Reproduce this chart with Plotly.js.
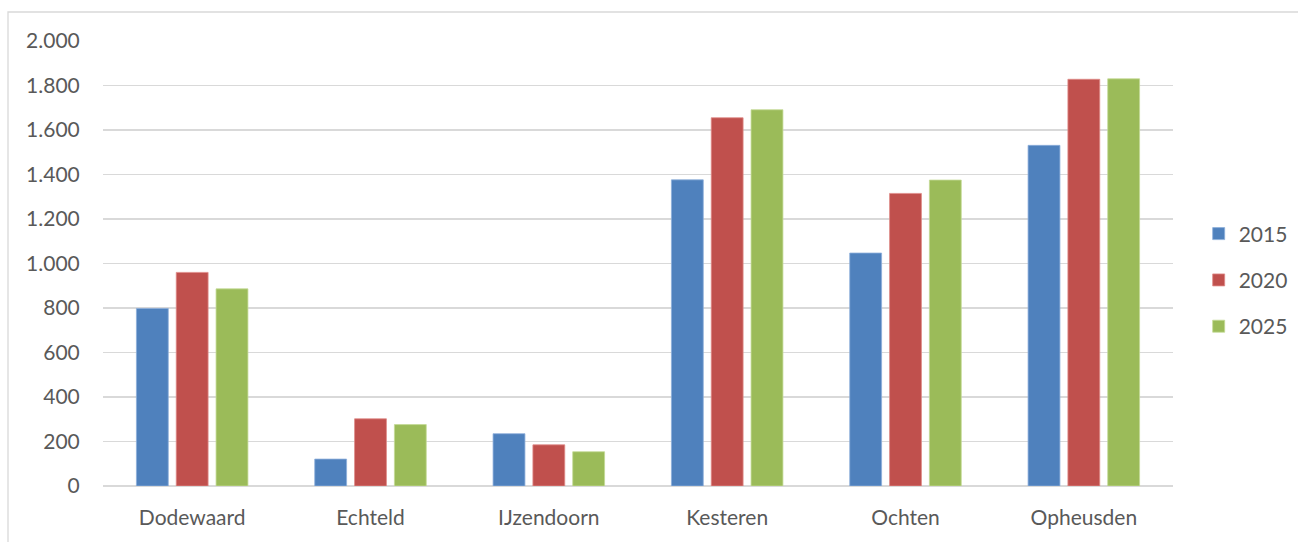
<!DOCTYPE html>
<html>
<head>
<meta charset="utf-8">
<script src="https://cdn.plot.ly/plotly-3.0.1.min.js"></script>
<style>html,body{margin:0;padding:0;background:#fff;}#chart{width:1298px;height:542px;}</style>
</head>
<body>
<div id="chart"></div>
<script>
const categories = ["Dodewaard", "Echteld", "IJzendoorn", "Kesteren", "Ochten", "Opheusden"];
const seriesNames = ["2015", "2020", "2025"];
const values2015 = [798, 121, 235, 1376, 1047, 1531];
const values2020 = [960, 302, 185, 1655, 1315, 1828];
const values2025 = [886, 276, 154, 1691, 1375, 1830];
const colors = ["#4F81BD", "#C0504D", "#9BBB59"];
const edgeColors = ["#8DAEDB", "#E08C89", "#C4DA95"];

const allValues = [values2015, values2020, values2025];
const traces = allValues.map((vals, i) => ({
  type: "bar",
  name: seriesNames[i],
  x: categories,
  y: vals,
  legendgroup: "g" + i,
  marker: {color: colors[i], line: {color: edgeColors[i], width: 0.8}},
  hoverinfo: "x+y+name"
}));

const font = "Lato, 'Open Sans', 'Liberation Sans', sans-serif";
const fs = 21;
const layout = {
  width: 1298, height: 542,
  margin: {l: 103, r: 125, t: 41, b: 56, pad: 0, autoexpand: false},
  paper_bgcolor: "#fff", plot_bgcolor: "#fff",
  separators: ",.",
  font: {family: font, size: fs, color: "#595959"},
  barmode: "group",
  bargap: 0.33,
  bargroupgap: 0.2,
  showlegend: true,
  legend: {x: 1.024, xanchor: "left", y: 0.463, yanchor: "middle",
           font: {family: font, size: fs, color: "#595959"},
           tracegroupgap: 16, bgcolor: "rgba(0,0,0,0)"},
  xaxis: {type: "category", showgrid: false, zeroline: false, showline: false,
          ticks: "outside", ticklen: 13, tickcolor: "rgba(0,0,0,0)",
          tickfont: {family: font, size: fs, color: "#595959"}, fixedrange: true},
  yaxis: {range: [0, 2000], dtick: 200, tick0: 0, tickformat: ",d",
          showgrid: true, gridcolor: "#D9D9D9", gridwidth: 1.3,
          zeroline: true, zerolinecolor: "#D9D9D9", zerolinewidth: 1.3, showline: false,
          ticks: "outside", ticklen: 18, tickcolor: "rgba(0,0,0,0)",
          tickfont: {family: font, size: fs, color: "#595959"}, fixedrange: true},
  shapes: [{type: "rect", xref: "paper", yref: "paper",
            x0: (8 - 103) / 1070, x1: (1320 - 103) / 1070,
            y0: (486 - 560) / 445, y1: (486 - 12) / 445,
            line: {color: "#D9D9D9", width: 1.3}, fillcolor: "rgba(0,0,0,0)", layer: "below"}]
};

Plotly.newPlot("chart", traces, layout, {displayModeBar: false, staticPlot: true});
</script>
</body>
</html>
